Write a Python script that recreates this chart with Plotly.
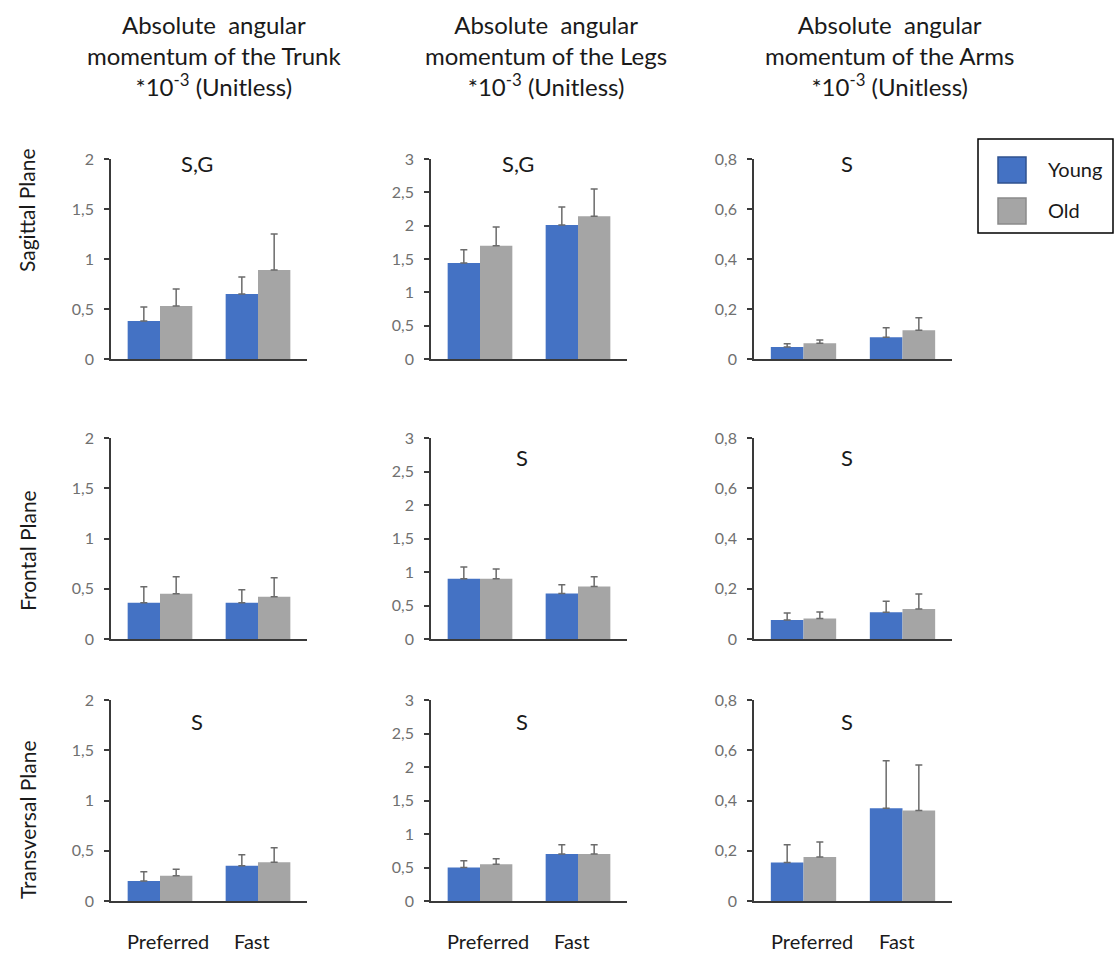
import plotly.graph_objects as go

W, H = 1114, 954

# ---------------- data ----------------
conditions = ["Preferred", "Fast"]
groups = ["Young", "Old"]
segments = ["Trunk", "Legs", "Arms"]
planes = ["Sagittal Plane", "Frontal Plane", "Transversal Plane"]

# Sagittal plane
sag_trunk_young = [0.38, 0.65]; sag_trunk_young_sd = [0.14, 0.17]
sag_trunk_old = [0.53, 0.89];   sag_trunk_old_sd = [0.17, 0.36]
sag_legs_young = [1.44, 2.01];  sag_legs_young_sd = [0.20, 0.27]
sag_legs_old = [1.70, 2.14];    sag_legs_old_sd = [0.28, 0.41]
sag_arms_young = [0.048, 0.087]; sag_arms_young_sd = [0.013, 0.038]
sag_arms_old = [0.063, 0.115];   sag_arms_old_sd = [0.013, 0.050]

# Frontal plane
fro_trunk_young = [0.36, 0.36]; fro_trunk_young_sd = [0.16, 0.13]
fro_trunk_old = [0.45, 0.42];   fro_trunk_old_sd = [0.17, 0.19]
fro_legs_young = [0.90, 0.68];  fro_legs_young_sd = [0.175, 0.13]
fro_legs_old = [0.90, 0.785];   fro_legs_old_sd = [0.145, 0.145]
fro_arms_young = [0.076, 0.106]; fro_arms_young_sd = [0.027, 0.044]
fro_arms_old = [0.082, 0.119];   fro_arms_old_sd = [0.025, 0.060]

# Transversal plane
tra_trunk_young = [0.20, 0.35]; tra_trunk_young_sd = [0.09, 0.11]
tra_trunk_old = [0.25, 0.385];  tra_trunk_old_sd = [0.065, 0.145]
tra_legs_young = [0.50, 0.70];  tra_legs_young_sd = [0.10, 0.14]
tra_legs_old = [0.55, 0.70];    tra_legs_old_sd = [0.08, 0.14]
tra_arms_young = [0.153, 0.369]; tra_arms_young_sd = [0.071, 0.189]
tra_arms_old = [0.175, 0.36];    tra_arms_old_sd = [0.06, 0.181]

# significance labels per (row, col)
sig_labels = [["S,G", "S,G", "S"],
              ["", "S", "S"],
              ["S", "S", "S"]]

# y-axis ticks per column
ymax = [2, 3, 0.8]
tickvals_cols = [[0, 0.5, 1, 1.5, 2],
                 [0, 0.5, 1, 1.5, 2, 2.5, 3],
                 [0, 0.2, 0.4, 0.6, 0.8]]
ticktext_cols = [["0", "0,5", "1", "1,5", "2"],
                 ["0", "0,5", "1", "1,5", "2", "2,5", "3"],
                 ["0", "0,2", "0,4", "0,6", "0,8"]]

col_titles = ["Absolute  angular<br>momentum of the Trunk<br>*10<sup>-3</sup> (Unitless)",
              "Absolute  angular<br>momentum of the Legs<br>*10<sup>-3</sup> (Unitless)",
              "Absolute  angular<br>momentum of the Arms<br>*10<sup>-3</sup> (Unitless)"]

data = [
    [(sag_trunk_young, sag_trunk_young_sd, sag_trunk_old, sag_trunk_old_sd),
     (sag_legs_young, sag_legs_young_sd, sag_legs_old, sag_legs_old_sd),
     (sag_arms_young, sag_arms_young_sd, sag_arms_old, sag_arms_old_sd)],
    [(fro_trunk_young, fro_trunk_young_sd, fro_trunk_old, fro_trunk_old_sd),
     (fro_legs_young, fro_legs_young_sd, fro_legs_old, fro_legs_old_sd),
     (fro_arms_young, fro_arms_young_sd, fro_arms_old, fro_arms_old_sd)],
    [(tra_trunk_young, tra_trunk_young_sd, tra_trunk_old, tra_trunk_old_sd),
     (tra_legs_young, tra_legs_young_sd, tra_legs_old, tra_legs_old_sd),
     (tra_arms_young, tra_arms_young_sd, tra_arms_old, tra_arms_old_sd)],
]

# ---------------- style ----------------
BLUE = "#4472C4"
GRAY = "#A5A5A5"
ERR = "#6b6b6b"
AXIS = "#3a3a3a"
TICK = "#707070"
TXT = "#1a1a1a"
FONT = "Lato, 'Open Sans', sans-serif"

# plot-area pixel boxes
col_x = [(111, 307), (431, 627), (754, 952)]
row_y = [(159, 359), (438, 639), (700, 901)]


def px(x):
    return x / W


def py(y):
    return 1 - y / H


fig = go.Figure()
layout = dict(
    width=W, height=H, autosize=False,
    margin=dict(l=0, r=0, t=0, b=0, pad=0),
    paper_bgcolor="white", plot_bgcolor="white",
    barmode="group", bargap=0.34, bargroupgap=0,
    showlegend=False,
    font=dict(family=FONT, color="black"),
)

annotations = []
shapes = []

for r in range(3):
    for c in range(3):
        idx = r * 3 + c + 1
        xa = "x" if idx == 1 else f"x{idx}"
        ya = "y" if idx == 1 else f"y{idx}"
        yv, ysd, ov, osd = data[r][c]
        for vals, sds, color, name in [(yv, ysd, BLUE, groups[0]), (ov, osd, GRAY, groups[1])]:
            fig.add_trace(go.Bar(
                x=conditions, y=vals, name=name,
                marker=dict(color=color, line=dict(width=0)),
                error_y=dict(type="data", symmetric=False, array=sds,
                             arrayminus=[0] * len(sds),
                             color=ERR, thickness=1.5, width=3.5),
                xaxis=xa, yaxis=ya, offsetgroup=name,
            ))
        xkey = "xaxis" if idx == 1 else f"xaxis{idx}"
        ykey = "yaxis" if idx == 1 else f"yaxis{idx}"
        x0, x1 = col_x[c]
        y0, y1 = row_y[r]
        layout[xkey] = dict(
            domain=[px(x0), px(x1)], anchor=ya, automargin=False,
            type="category", range=[-0.5, 1.5],
            showline=True, linecolor=AXIS, linewidth=1.5,
            ticks="", showgrid=False, zeroline=False,
            showticklabels=False,
        )
        layout[ykey] = dict(
            domain=[py(y1), py(y0)], anchor=xa, automargin=False,
            range=[0, ymax[c]],
            tickvals=tickvals_cols[c], ticktext=ticktext_cols[c],
            showline=True, linecolor=AXIS, linewidth=1.5,
            ticks="outside", ticklen=5, tickwidth=1.5, tickcolor=AXIS,
            showgrid=False, zeroline=False,
            tickfont=dict(family=FONT, size=16, color=TICK),
            ticklabelstandoff=7,
        )
        # category labels under the bottom row
        if r == 2:
            for k, cond in enumerate(conditions):
                annotations.append(dict(
                    text=cond, x=cond, xref=xa, y=py(941), yref="paper",
                    xshift=[8, -6][k], showarrow=False, borderpad=0,
                    xanchor="center", yanchor="middle",
                    font=dict(family=FONT, size=20, color=TXT)))
        lab = sig_labels[r][c]
        if lab:
            ax_x = [197, 518, 847][c] if r == 0 else [197, 522, 847][c]
            ax_y = [163, 457, 721][r]
            annotations.append(dict(
                text=lab, x=px(ax_x), y=py(ax_y), xref="paper", yref="paper",
                showarrow=False, xanchor="center", yanchor="middle",
                font=dict(family=FONT, size=22, color=TXT)))

# column titles
for c, t in enumerate(col_titles):
    annotations.append(dict(
        text=t, x=px([214, 546, 889][c]), y=py(8), xref="paper", yref="paper",
        showarrow=False, xanchor="center", yanchor="top", align="center",
        font=dict(family=FONT, size=24, color=TXT)))

# row labels
for r, p in enumerate(planes):
    annotations.append(dict(
        text=p, x=px(27), y=py([210, 551, 820][r]), xref="paper", yref="paper",
        showarrow=False, textangle=-90, xanchor="center", yanchor="middle",
        font=dict(family=FONT, size=21, color=TXT)))

# legend (drawn manually)
shapes.append(dict(type="rect", xref="paper", yref="paper",
                   x0=px(978), x1=px(1113), y0=py(233), y1=py(139),
                   line=dict(color="black", width=1.5), fillcolor="white"))
for i, (g, col, edge) in enumerate([(groups[0], BLUE, "#2F528F"), (groups[1], GRAY, "#8a8a8a")]):
    top = [157, 198][i]
    shapes.append(dict(type="rect", xref="paper", yref="paper",
                       x0=px(998), x1=px(1026), y0=py(top + 26), y1=py(top),
                       line=dict(color=edge, width=1.5), fillcolor=col))
    annotations.append(dict(
        text=g, x=px(1046), y=py(top + 12), xref="paper", yref="paper",
        showarrow=False, xanchor="left", yanchor="middle",
        font=dict(family=FONT, size=20, color=TXT)))

layout["annotations"] = annotations
layout["shapes"] = shapes
fig.update_layout(**layout)

fig.write_html("out.html",
               config={"displayModeBar": False},
               post_script="document.body.style.margin='0px';document.body.style.overflow='hidden';")
